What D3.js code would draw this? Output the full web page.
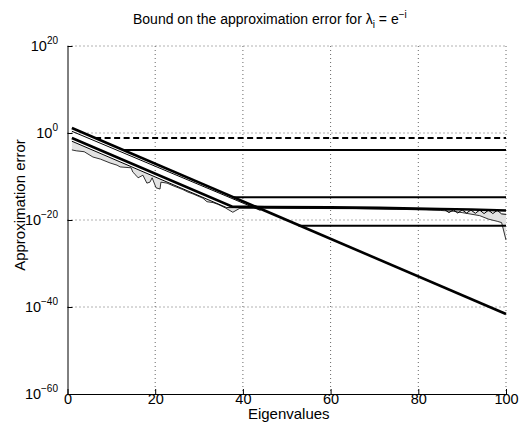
<!DOCTYPE html>
<html lang="en">
<head>
  <meta charset="UTF-8">
  <title>Bound on the approximation error</title>
  <script src="https://d3js.org/d3.v7.min.js"></script>
  <style>
    body {
      margin: 0;
      background-color: #ffffff;
      font-family: "Liberation Sans", Arial, Helvetica, sans-serif;
    }
    svg { display: block; }
    .grid line {
      stroke: #666;
      stroke-width: 1;
      stroke-dasharray: 1,3;
    }
    .axis path, .axis line {
      stroke: #000;
      stroke-width: 1;
    }
    .axis text {
      font-family: "Liberation Sans", Arial, sans-serif;
      font-size: 14.5px;
      fill: #000;
    }
    .lbl {
      font-size: 15px;
      fill: #000;
    }
  </style>
</head>
<body>
  <svg id="chart"></svg>
  <script>
    // eigenvalue index vs. error
    const xTicks = [0, 20, 40, 60, 80, 100];
    const yTickExp = [20, 0, -20, -40, -60];

    // bound lines: [index, value]
    const boundMain = [[1, 14], [100, 2.5e-42]];
    const boundThin = [[1, 2.5], [44, 1.6e-18]];
    const boundDash = [[6.3, 7e-2], [100, 7e-2]];
    const floorA = [[12.6, 1.3e-4], [100, 1.3e-4]];
    const floorB = [[37.7, 1.6e-15], [100, 1.6e-15]];
    const floorC = [[52.7, 5e-22], [100, 5e-22]];

    // measured error: max, mean and min over runs
    const errMax = [[1, 7e-2], [37.6, 1.1e-17], [45, 1e-17], [60, 8e-18], [71, 6e-18],
                    [85, 3.4e-18], [92, 2.5e-18], [100, 1.5e-18]];
    const errMid = [[1, 1.3e-2], [36.3, 7e-18], [45, 6.5e-18], [60, 5e-18], [71, 4e-18],
                    [85, 2.3e-18], [86, 2.4e-18], [87, 5e-19], [88, 2.2e-18], [89, 4e-19],
                    [90, 2.1e-18], [91, 4e-19], [92, 2e-18], [93, 3.5e-19], [94, 1.9e-18],
                    [95, 3e-19], [96, 1.8e-18], [97, 3e-19], [98, 1.7e-18], [99, 2.5e-19],
                    [100, 2e-19]];
    const errMin = [[1, 1.3e-4], [2, 8e-5], [3.8, 5e-5], [5.8, 3e-6], [7.5, 1e-6],
                    [9.7, 1.3e-7], [11.3, 4e-8], [12, 1.6e-8], [14.5, 1e-8], [14.9, 1e-9],
                    [15.6, 2e-10], [16.1, 5e-11], [17.2, 2e-10], [18.1, 3e-12], [18.8, 5e-12],
                    [19.3, 5e-11], [20.2, 2.5e-13], [21.1, 1.3e-13], [21.3, 5e-12], [22.7, 3e-12],
                    [24.3, 6e-13], [26.3, 1e-13], [27.5, 2.5e-14], [28.6, 1e-14], [30.9, 1e-15],
                    [31.8, 1.6e-16], [33.2, 1e-16], [34.3, 4e-17], [36, 6e-18], [37.7, 6e-19],
                    [39.3, 5e-18], [45, 5e-18], [55, 4.5e-18], [65, 4e-18], [75, 3e-18],
                    [85, 1.6e-18], [88, 1e-18], [90, 5e-19], [94, 1e-19], [96, 1.6e-20],
                    [98, 5e-21], [99, 2.5e-21], [100, 2.5e-25]];

    const svgWidth = 519;
    const svgHeight = 429;
    const plotLeft = 67.5, plotRight = 506, plotTop = 46, plotBottom = 394;

    const svg = d3.select("#chart")
                  .attr("width", svgWidth)
                  .attr("height", svgHeight);

    const x = d3.scaleLinear().domain([0, 100]).range([plotLeft, plotRight]);
    const y = d3.scaleLog().domain([1e-60, 1e20]).range([plotBottom, plotTop]);

    // grid
    const grid = svg.append("g").attr("class", "grid");
    grid.selectAll(".gx")
        .data(xTicks.slice(1))
        .enter().append("line")
        .attr("x1", d => x(d)).attr("x2", d => x(d))
        .attr("y1", plotTop).attr("y2", plotBottom);
    grid.selectAll(".gy")
        .data(yTickExp.slice(0, -1))
        .enter().append("line")
        .attr("x1", plotLeft).attr("x2", plotRight)
        .attr("y1", d => y(Math.pow(10, d))).attr("y2", d => y(Math.pow(10, d)));

    const line = d3.line().x(d => x(d[0])).y(d => y(d[1]));

    // shaded band between mean and min
    const band = errMid.concat(errMin.slice().reverse());
    svg.append("path")
       .attr("d", line(band) + "Z")
       .attr("fill", "#e2e2e2")
       .attr("stroke", "none");

    function draw(data, w, dash) {
      svg.append("path")
         .attr("d", line(data))
         .attr("fill", "none")
         .attr("stroke", "#000")
         .attr("stroke-width", w)
         .attr("stroke-dasharray", dash || null);
    }

    draw(errMin, 0.8);
    draw(errMid, 1);
    draw(errMax, 2.6);
    draw(boundDash, 2, "6,3.5");
    draw(floorA, 2);
    draw(floorB, 2);
    draw(floorC, 2);
    draw(boundThin, 1);
    draw(boundMain, 2.6);

    // axes
    svg.append("g")
       .attr("class", "axis")
       .attr("transform", `translate(0, ${plotBottom})`)
       .call(d3.axisBottom(x).tickValues(xTicks).tickSizeInner(-5).tickSizeOuter(0).tickPadding(0));

    svg.append("g")
       .attr("class", "axis")
       .attr("transform", `translate(${plotLeft}, 0)`)
       .call(d3.axisLeft(y).tickValues(yTickExp.map(e => Math.pow(10, e)))
               .tickSizeInner(-5).tickSizeOuter(0).tickFormat(""));

    // y tick labels with superscript exponents
    const yl = svg.selectAll(".ylab")
       .data(yTickExp)
       .enter().append("text")
       .attr("class", "ylab")
       .attr("x", 58)
       .attr("y", d => y(Math.pow(10, d)) + 5)
       .attr("text-anchor", "end")
       .style("font-size", "14.5px");
    yl.append("tspan").text("10");
    yl.append("tspan")
      .attr("dy", -7)
      .style("font-size", "10px")
      .text(d => d < 0 ? "\u2212" + (-d) : String(d));

    // title
    const title = svg.append("text")
       .attr("x", 133)
       .attr("y", 23.5)
       .style("font-size", "14px");
    title.append("tspan").text("Bound on the approximation error for \u03bb");
    title.append("tspan").attr("dy", 4).style("font-size", "10px").text("i");
    title.append("tspan").attr("dy", -4).text(" = e");
    title.append("tspan").attr("dy", -6).style("font-size", "10px").text("\u2212i");

    // axis labels
    svg.append("text")
       .attr("class", "lbl")
       .attr("x", (plotLeft + plotRight) / 2 + 2)
       .attr("y", 419)
       .attr("text-anchor", "middle")
       .text("Eigenvalues");

    svg.append("text")
       .attr("class", "lbl")
       .attr("transform", "translate(25, 205) rotate(-90)")
       .attr("text-anchor", "middle")
       .text("Approximation error");
  </script>
</body>
</html>
